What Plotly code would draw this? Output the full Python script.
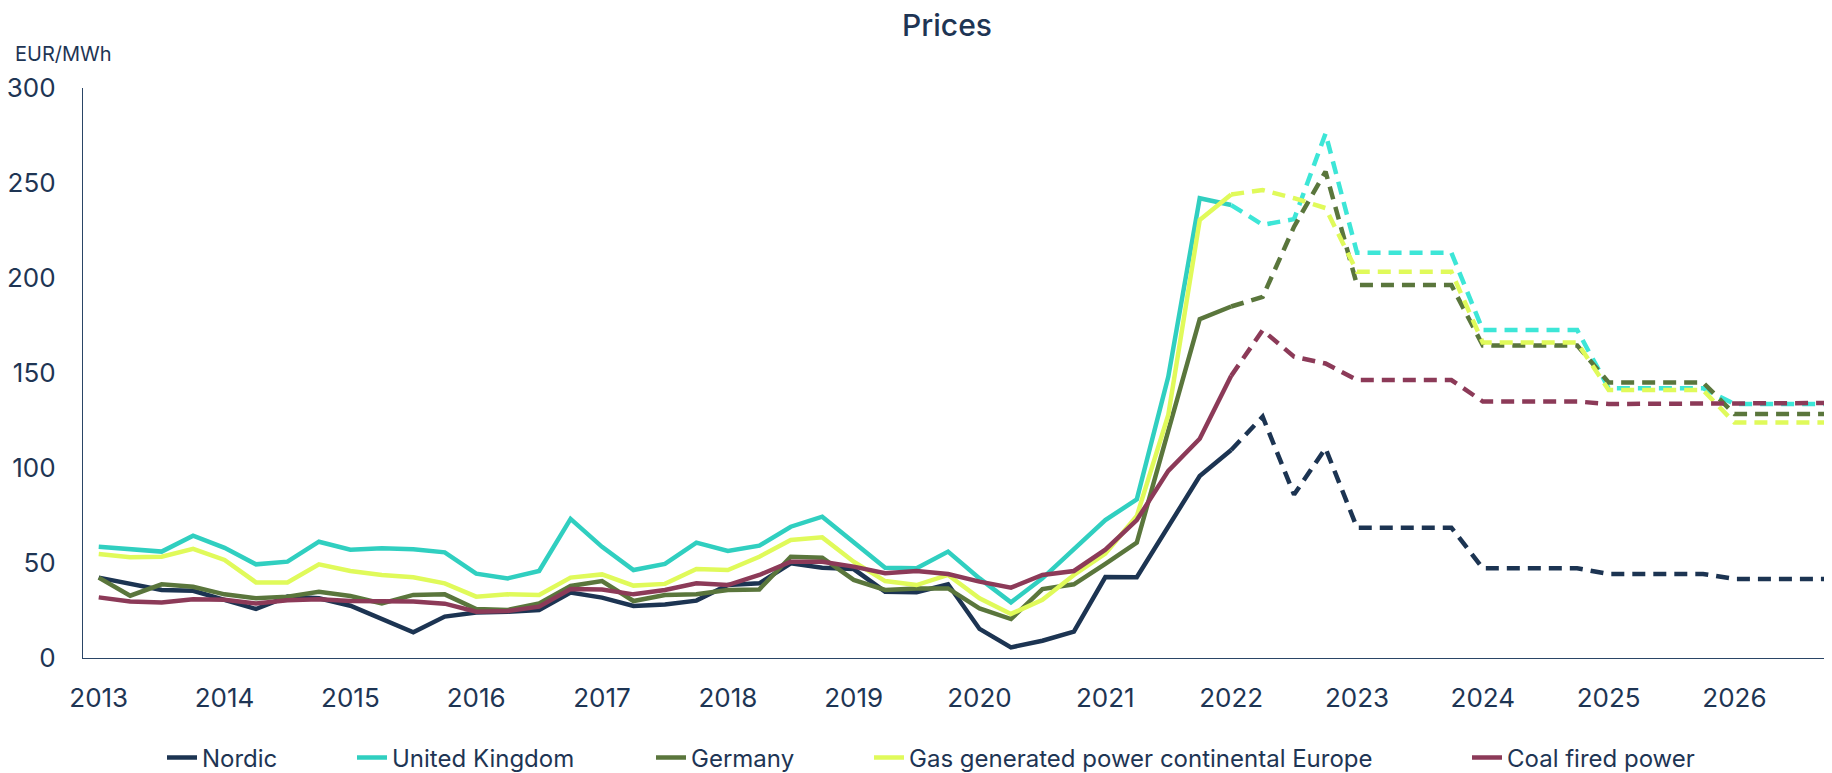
import plotly.graph_objects as go

# Quarterly data, 2013 Q1 .. 2026 Q4 (56 quarters); values from index 36 onward are forecasts (dashed)
quarters = list(range(56))
forecast_start = 36

year_ticks = [2013, 2014, 2015, 2016, 2017, 2018, 2019, 2020, 2021, 2022, 2023, 2024, 2025, 2026]

nordic = [42.3, 38.8, 35.8, 35.4, 30.9, 25.8, 32.3, 31.4, 27.5, 20.5, 13.5, 21.8, 24.0, 24.4, 25.3, 34.4,
          31.8, 27.4, 28.2, 30.2, 38.4, 39.3, 49.8, 47.5, 46.8, 34.9, 34.6, 38.8, 15.3, 5.6, 9.1, 13.9,
          42.6, 42.5, 69.1, 95.8, 109.5, 127.0, 86.0, 110.4, 68.6, 68.6, 68.6, 68.6, 47.2, 47.2, 47.2, 47.2,
          44.2, 44.2, 44.2, 44.2, 41.6, 41.6, 41.6, 41.6]

united_kingdom = [58.6, 57.4, 56.0, 64.4, 58.0, 49.3, 50.7, 61.2, 57.0, 57.7, 57.2, 55.6, 44.4, 41.9, 45.8, 73.2,
                  58.5, 46.3, 49.5, 60.7, 56.3, 59.1, 69.1, 74.4, 61.2, 47.5, 47.2, 56.0, 41.9, 29.3, 41.9, 57.4,
                  72.6, 83.5, 148.0, 242.0, 238.4, 228.0, 231.0, 276.0, 213.3, 213.3, 213.3, 213.3, 172.6, 172.6, 172.6, 172.6,
                  142.0, 142.0, 142.0, 142.0, 133.7, 133.7, 133.7, 133.7]

germany = [42.3, 32.8, 38.8, 37.5, 33.5, 31.4, 32.3, 34.9, 32.6, 28.7, 33.2, 33.5, 25.8, 25.3, 28.7, 37.9,
           40.5, 30.0, 33.2, 33.5, 35.8, 36.1, 53.3, 52.8, 41.1, 35.8, 36.6, 36.6, 26.1, 20.5, 36.3, 38.8,
           49.6, 60.7, 119.5, 178.3, 185.0, 190.0, 227.0, 256.0, 196.3, 196.3, 196.3, 196.3, 164.5, 164.5, 164.5, 164.5,
           145.0, 145.0, 145.0, 145.0, 128.4, 128.4, 128.4, 128.4]

gas_power = [54.7, 53.0, 53.3, 57.4, 51.6, 39.8, 39.8, 49.3, 45.8, 43.7, 42.5, 39.3, 32.3, 33.5, 33.2, 42.3,
             44.0, 38.1, 39.0, 46.8, 46.3, 53.3, 62.1, 63.5, 50.7, 40.5, 38.4, 43.7, 31.4, 23.2, 30.6, 43.7,
             55.0, 74.7, 127.9, 230.5, 244.0, 246.3, 242.0, 236.8, 203.3, 203.3, 203.3, 203.3, 166.0, 166.0, 166.0, 166.0,
             141.0, 141.0, 141.0, 141.0, 123.9, 123.9, 123.9, 123.9]

coal_power = [31.9, 29.7, 29.2, 30.9, 30.6, 28.7, 30.4, 30.9, 30.0, 29.7, 29.7, 28.6, 24.4, 24.7, 27.0, 36.3,
              36.0, 33.5, 35.8, 39.3, 38.4, 43.7, 50.7, 50.7, 48.1, 44.6, 45.8, 44.2, 40.2, 37.0, 43.7, 45.8,
              57.0, 72.6, 98.5, 115.4, 148.5, 172.5, 158.6, 155.0, 146.3, 146.3, 146.3, 146.3, 135.0, 135.0, 135.0, 135.0,
              133.7, 133.7, 133.7, 133.7, 134.2, 134.2, 134.2, 134.2]

series = [
    ("Nordic", nordic, "#1c3452", "#1c3452"),
    ("United Kingdom", united_kingdom, "#30cfc0", "#3de6d7"),
    ("Germany", germany, "#5a763c", "#5a763c"),
    ("Gas generated power continental Europe", gas_power, "#e0fa5a", "#e0fa5a"),
    ("Coal fired power", coal_power, "#8c3a58", "#8c3a58"),
]
# left edge (px) of each legend label text
legend_text_x = [196, 386, 685, 903, 1501]

FONT = "Inter"
TXT = "#1e3554"
W, H = 1824, 765
L, T, B = 75, 80, 115
PW, PH = W - L, H - T - B

fig = go.Figure()
legend_ids = ["legend", "legend2", "legend3", "legend4", "legend5"]
for (name, vals, col, dcol), lid in zip(series, legend_ids):
    fig.add_trace(go.Scatter(
        x=quarters[:forecast_start + 1], y=vals[:forecast_start + 1],
        mode="lines", name=name, legendgroup=name, legend=lid,
        line=dict(color=col, width=4.5),
        hoverinfo="skip",
    ))
for (name, vals, col, dcol), lid in zip(series, legend_ids):
    fig.add_trace(go.Scatter(
        x=quarters[forecast_start:], y=vals[forecast_start:],
        mode="lines", name=name, legendgroup=name, showlegend=False, legend=lid,
        line=dict(color=dcol, width=4.5, dash="13px,8px"),
        hoverinfo="skip",
    ))

legend_y = (PH + T - 750) / PH
legends = {}
for lid, tx in zip(legend_ids, legend_text_x):
    legends[lid] = dict(orientation="h", x=(tx - 42 - L) / PW, xanchor="left",
                        y=legend_y, yanchor="middle",
                        font=dict(family=FONT, size=24, color=TXT),
                        bgcolor="rgba(0,0,0,0)")

fig.update_layout(
    width=W, height=H,
    margin=dict(l=L, r=0, t=T, b=B, autoexpand=False),
    paper_bgcolor="white", plot_bgcolor="white",
    font=dict(family=FONT, color=TXT, size=26),
    title=dict(text="Prices", x=939 / W, xref="container", xanchor="center",
               y=1 - 17 / H, yref="container", yanchor="middle",
               font=dict(family=FONT, size=30, color=TXT, weight=500)),
    showlegend=True,
    xaxis=dict(range=[-0.5, 55.1], tickvals=[4 * k for k in range(len(year_ticks))],
               ticktext=[str(y) for y in year_ticks], showgrid=False, zeroline=False,
               showline=True, linecolor="#2a4566", linewidth=1.3, ticks="", tickangle=0,
               automargin=False,
               ticklabelstandoff=17, tickfont=dict(size=26, color=TXT)),
    yaxis=dict(range=[0, 300], tickvals=[0, 50, 100, 150, 200, 250, 300], showgrid=False,
               zeroline=False, showline=True, linecolor="#2a4566", linewidth=1.3, ticks="",
               automargin=False,
               ticklabelstandoff=21, tickfont=dict(size=26, color=TXT)),
    annotations=[dict(text="EUR/MWh", xref="paper", yref="paper", x=(4.7 - L) / PW, y=(PH + T - 46) / PH,
                      xanchor="left", yanchor="middle", showarrow=False,
                      font=dict(family=FONT, size=20, color=TXT))],
    **legends,
)

fig.write_html("out.html")
